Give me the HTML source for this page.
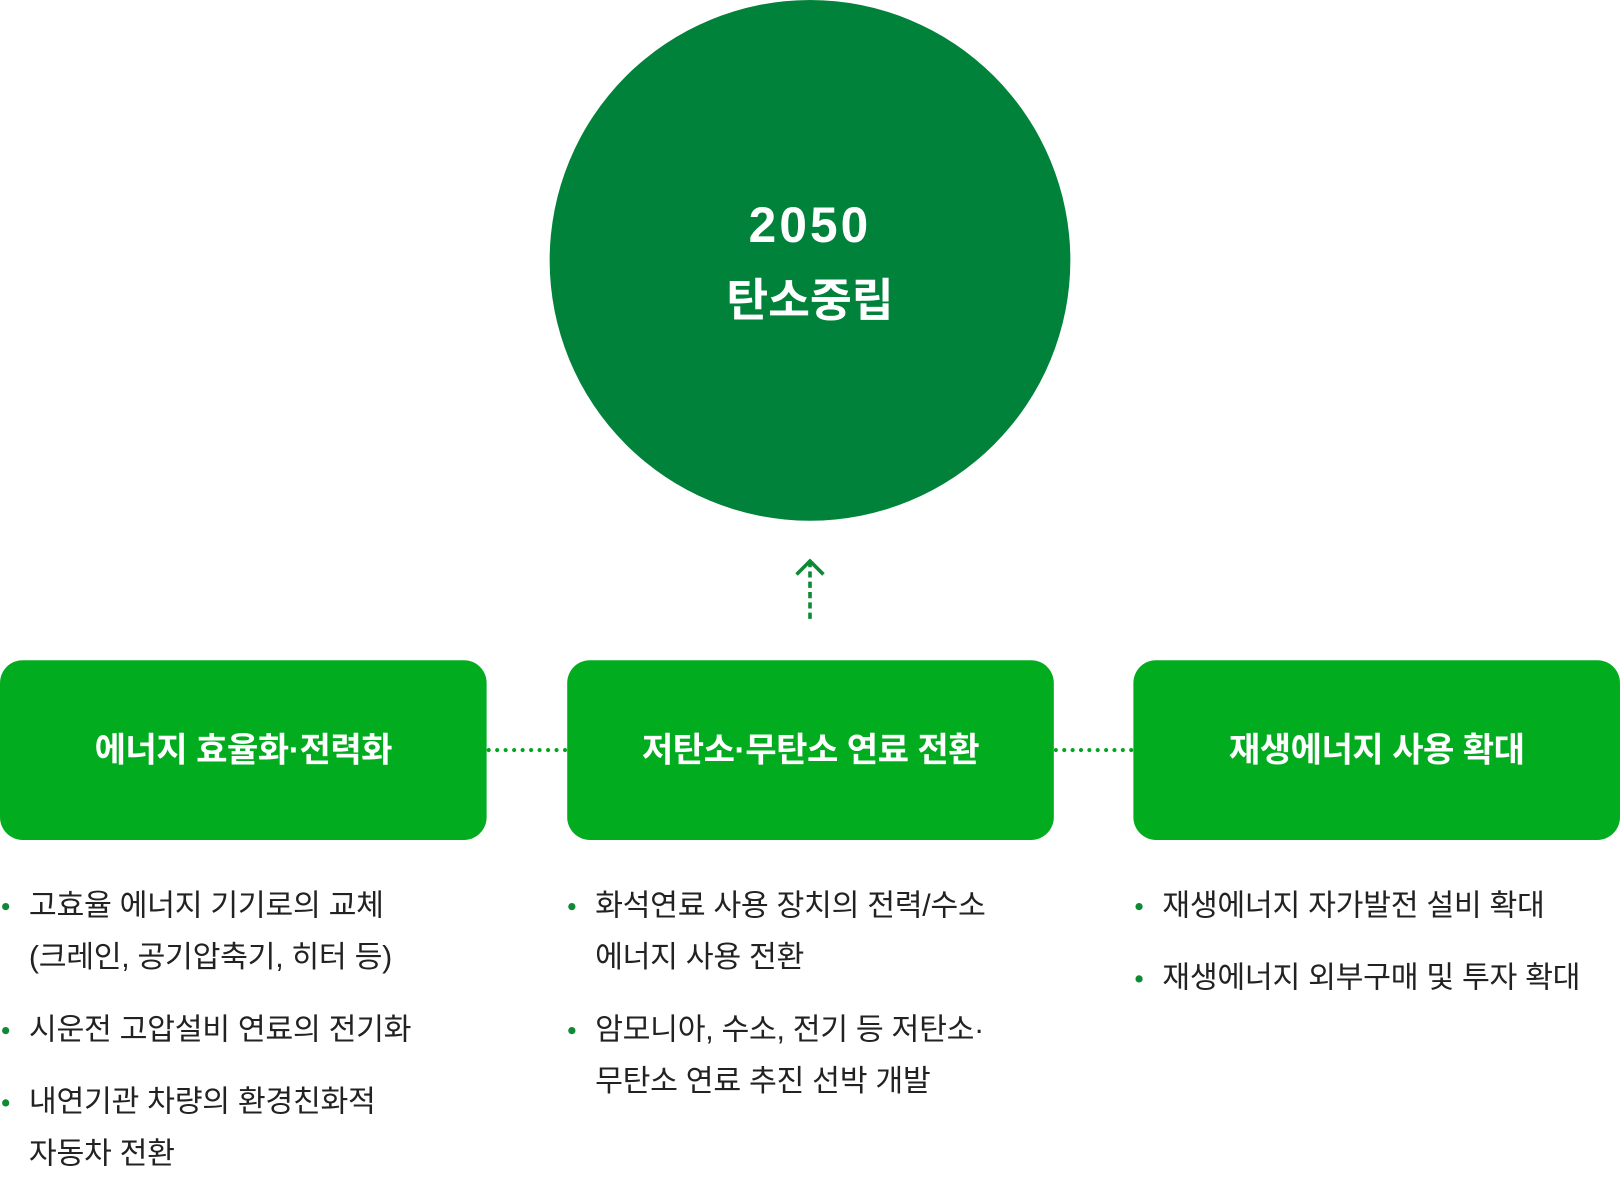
<!DOCTYPE html>
<html><head><meta charset="utf-8"><style>
html,body{margin:0;padding:0;background:#fff;width:1620px;height:1180px;overflow:hidden}
#w{position:absolute;left:0;top:0;width:1568px;height:1142px;transform:scale(1.03316);transform-origin:0 0;font-family:"Liberation Sans","Noto Sans CJK KR",sans-serif}
.c{position:absolute;left:532px;top:0;width:504px;height:504px;border-radius:50%;background:#00823A;color:#fff;font-weight:bold;font-size:44px;text-align:center}
.box{position:absolute;top:639px;width:471px;height:174px;border-radius:22px;background:#02AC1F;color:#fff;font-weight:bold;font-size:33px;line-height:174px;text-align:center;letter-spacing:-0.5px}
.dot{position:absolute;top:724px;height:0;border-top:4px dotted #02A51F}
ul{position:absolute;margin:0;padding:0;list-style:none;top:852px;font-size:29.3px;color:#222;line-height:50px;letter-spacing:-0.3px}
li{position:relative;padding-left:28px;margin-bottom:20px}
li:before{content:"";position:absolute;left:2px;top:22px;width:7px;height:7px;border-radius:50%;background:#0E8A35}
</style></head><body><div id="w">
<div class="c"><div style="position:absolute;top:191px;width:100%;font-size:48px;letter-spacing:3px">2050</div><div style="position:absolute;top:255px;width:100%">탄소중립</div></div>
<svg style="position:absolute;left:770px;top:535px" width="30" height="70"><line x1="14" y1="8" x2="14" y2="66" stroke="#0E8A35" stroke-width="3.5" stroke-dasharray="6,4"/><polyline points="1,21 14,8 27,21" fill="none" stroke="#0E8A35" stroke-width="3.5"/></svg>
<div class="box" style="left:0">에너지 효율화·전력화</div>
<div class="box" style="left:549px">저탄소·무탄소 연료 전환</div>
<div class="box" style="left:1097px">재생에너지 사용 확대</div>
<div class="dot" style="left:471px;width:78px"></div>
<div class="dot" style="left:1020px;width:77px"></div>
<ul style="left:0"><li>고효율 에너지 기기로의 교체<br>(크레인, 공기압축기, 히터 등)</li><li>시운전 고압설비 연료의 전기화</li><li>내연기관 차량의 환경친화적<br>자동차 전환</li></ul>
<ul style="left:548px"><li>화석연료 사용 장치의 전력/수소<br>에너지 사용 전환</li><li>암모니아, 수소, 전기 등 저탄소·<br>무탄소 연료 추진 선박 개발</li></ul>
<ul style="left:1097px"><li>재생에너지 자가발전 설비 확대</li><li>재생에너지 외부구매 및 투자 확대</li></ul>
</div></body></html>
